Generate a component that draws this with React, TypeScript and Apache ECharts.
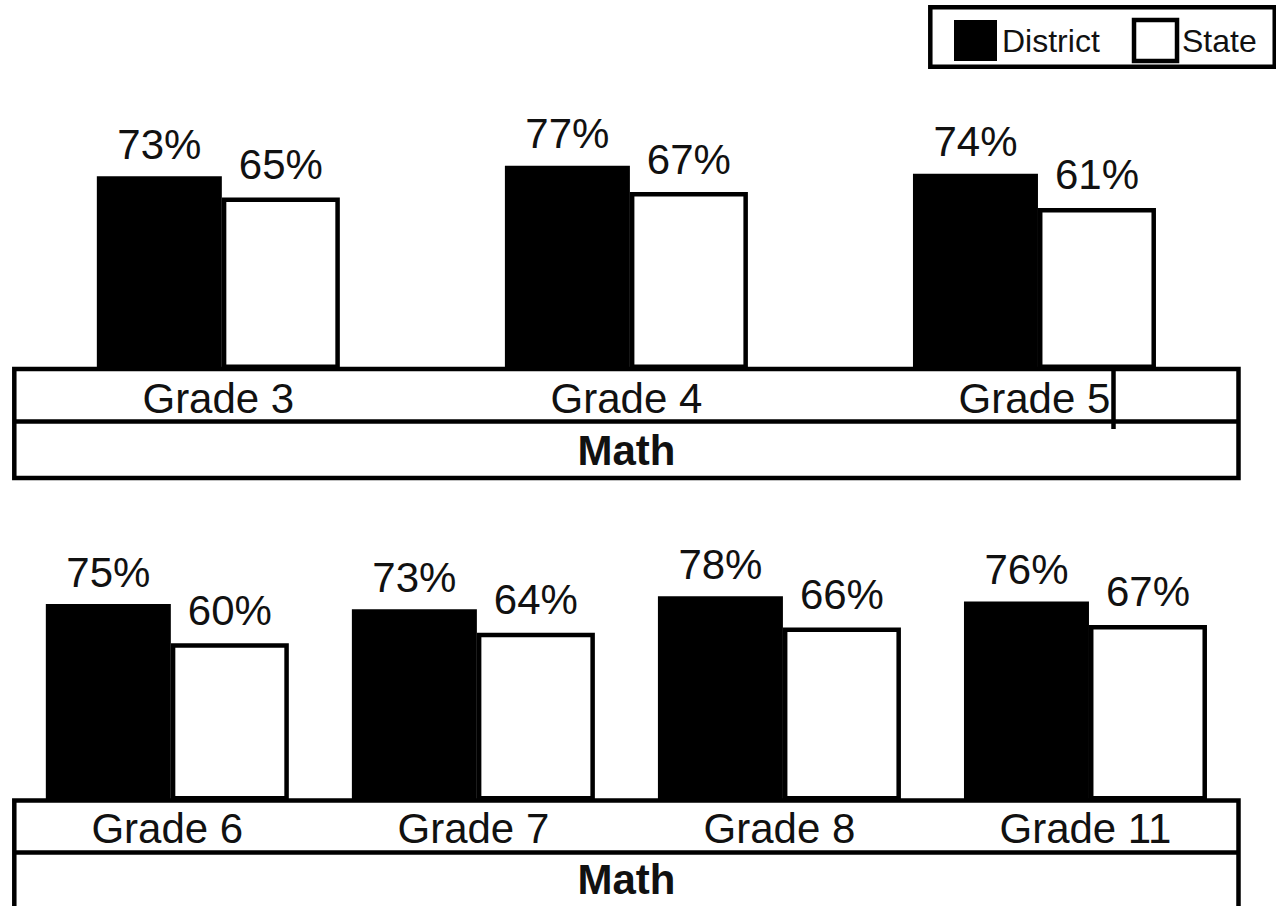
import React, { useEffect, useRef } from "react";
import * as echarts from "echarts";

const grades1 = ["Grade 3", "Grade 4", "Grade 5"];
const district1 = [73, 77, 74];
const state1 = [65, 67, 61];

const grades2 = ["Grade 6", "Grade 7", "Grade 8", "Grade 11"];
const district2 = [75, 73, 78, 76];
const state2 = [60, 64, 66, 67];

const subject = ["Math"];
const seriesNames = ["District", "State"];

const FONT = "'Liberation Sans', Arial, sans-serif";
const FS = 42;

export default function App() {
  const ref = useRef<HTMLDivElement>(null);
  useEffect(() => {
    if (!ref.current) return;
    const chart = echarts.init(ref.current, undefined, { renderer: "svg" });

    const gridL = 14.3;
    const gridR = 1276 - 1238.5;
    const top1Base = 369;
    const top2Base = 800.5;

    const labelStyle = (dist: number) => ({
      show: true,
      position: "top" as const,
      distance: dist,
      formatter: "{c}%",
      color: "#111",
      fontFamily: FONT,
      fontSize: FS,
    });

    const bars = (xi: number, yi: number, d: number[], s: number[]) => [
      {
        name: seriesNames[0],
        type: "bar",
        xAxisIndex: xi,
        yAxisIndex: yi,
        data: d,
        barWidth: 125,
        barGap: "0%",
        itemStyle: { color: "#000" },
        label: labelStyle(11),
      },
      {
        name: seriesNames[1],
        type: "bar",
        xAxisIndex: xi,
        yAxisIndex: yi,
        data: s,
        barWidth: 118,
        barGap: "0%",
        itemStyle: { color: "#fff", borderColor: "#000", borderWidth: 4.5 },
        label: labelStyle(12),
      },
    ];

    const catAxis = (gi: number, data: string[], margin: number, bold = false) => ({
      type: "category",
      gridIndex: gi,
      data,
      position: "bottom",
      axisLine: { show: false },
      axisTick: { show: false },
      splitLine: { show: false },
      axisLabel: {
        margin,
        interval: 0,
        color: "#111",
        fontFamily: FONT,
        fontSize: FS,
        fontWeight: bold ? "bold" : "normal",
      },
    });

    const valAxis = (gi: number) => ({
      type: "value",
      gridIndex: gi,
      min: 0,
      max: 100,
      show: false,
      splitLine: { show: false },
    });

    const boxW = 1238.5 - gridL;
    const lw = 4.5;

    chart.setOption({
      animation: false,
      backgroundColor: "#fff",
      legend: {
        data: [
          { name: "District", icon: "rect", itemStyle: { color: "#000", borderWidth: 0 } },
          {
            name: "State",
            icon: "rect",
            itemStyle: { color: "#fff", borderColor: "#000", borderWidth: 4.5 },
          },
        ],
        orient: "horizontal",
        left: 930.3,
        top: 7.3,
        width: 320,
        padding: [10.5, 18, 3.5, 23.7],
        itemWidth: 43,
        itemHeight: 41,
        itemGap: 32,
        borderColor: "#000",
        borderWidth: 4.5,
        backgroundColor: "#fff",
        selectedMode: false,
        textStyle: {
          fontFamily: FONT,
          fontSize: 32,
          color: "#111",
        },
      },
      grid: [
        { left: gridL, right: gridR, top: top1Base - 264, height: 264 },
        { left: gridL, right: gridR, top: top2Base - 262, height: 262 },
      ],
      xAxis: [
        catAxis(0, grades1, 8),
        catAxis(0, subject, 60, true),
        catAxis(1, grades2, 7),
        catAxis(1, subject, 57.5, true),
      ],
      yAxis: [valAxis(0), valAxis(1)],
      series: [...bars(0, 0, district1, state1), ...bars(2, 1, district2, state2)],
      graphic: [
        {
          type: "rect",
          z: 100,
          shape: { x: gridL, y: top1Base, width: boxW, height: 478 - top1Base },
          style: { fill: "none", stroke: "#000", lineWidth: lw },
        },
        {
          type: "line",
          z: 100,
          shape: { x1: gridL, y1: 421.5, x2: 1238.5, y2: 421.5 },
          style: { stroke: "#000", lineWidth: lw },
        },
        {
          type: "line",
          z: 100,
          shape: { x1: 1113.5, y1: top1Base, x2: 1113.5, y2: 429 },
          style: { stroke: "#000", lineWidth: lw },
        },
        {
          type: "rect",
          z: 100,
          shape: { x: gridL, y: top2Base, width: boxW, height: 140 },
          style: { fill: "none", stroke: "#000", lineWidth: lw },
        },
        {
          type: "line",
          z: 100,
          shape: { x1: gridL, y1: 852.5, x2: 1238.5, y2: 852.5 },
          style: { stroke: "#000", lineWidth: lw },
        },
      ],
    });
    return () => chart.dispose();
  }, []);

  return (
    <div
      ref={ref}
      style={{ position: "fixed", left: 0, top: 0, width: 1276, height: 906 }}
    />
  );
}
